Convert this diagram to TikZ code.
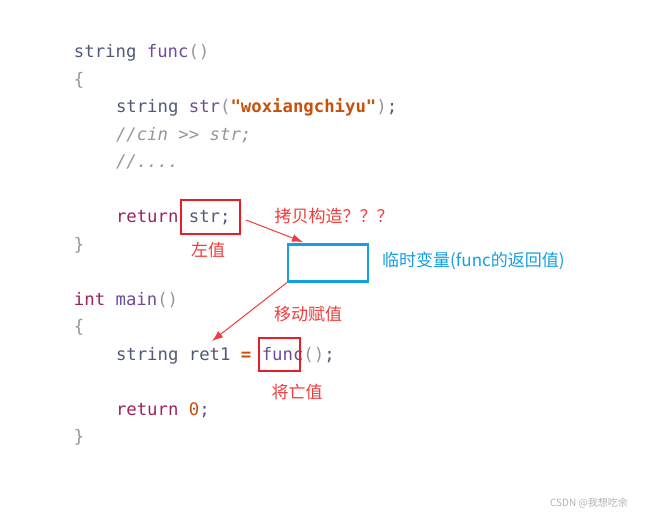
\documentclass[tikz,border=0pt]{standalone}
\usepackage{fontspec}
\usepackage{xcolor}
\usetikzlibrary{positioning,arrows.meta}
\newfontfamily\codefont{DejaVu Sans Mono}
\newfontfamily\cjk{Noto Sans CJK SC}
\definecolor{typeColor}{RGB}{80,90,120}
\definecolor{kwColor}{RGB}{155,35,95}
\definecolor{fnColor}{RGB}{110,75,155}
\definecolor{parColor}{RGB}{150,150,150}
\definecolor{strColor}{RGB}{200,80,10}
\definecolor{boxRed}{RGB}{230,30,40}
\definecolor{noteRed}{RGB}{240,60,60}
\definecolor{noteBlue}{RGB}{20,160,225}
\tikzset{
  code/.style={anchor=base west,inner sep=0pt,outer sep=0pt,font=\codefont\fontsize{17.3}{20}\selectfont,text=typeColor},
  note/.style={inner sep=0pt,font=\cjk\fontsize{17}{20}\selectfont,text=noteRed},
  redbox/.style={draw=boxRed,line width=2.2pt},
  arr/.style={draw=noteRed,line width=1pt,-{Latex[length=11pt,width=8pt]}}
}
\newcommand{\kw}[1]{\textcolor{kwColor}{#1}}
\newcommand{\fn}[1]{\textcolor{fnColor}{#1}}
\newcommand{\pa}[1]{\textcolor{parColor}{#1}}
\begin{document}
\begin{tikzpicture}[x=1pt,y=-1pt]
\path[use as bounding box,fill=white] (0,0) rectangle (649,515);
% code lines
\node[code] (l1) at (74,57) {string \fn{func}\pa{()}};
\node[code] (l2) at (74,85) {\pa{\{}};
\node[code] (l3) at (116,112) {string \fn{str}\pa{(}\textcolor{strColor}{\bfseries"woxiangchiyu"}\pa{)};};
\node[code] (l4) at (116,140) {\textcolor{parColor}{\itshape//cin >> str;}};
\node[code] (l5) at (116,167) {\textcolor{parColor}{\itshape//....}};
\node[code] (l6) at (116,222) {\kw{return} str;};
\node[code] (l7) at (74,250) {\pa{\}}};
\node[code] (l8) at (74,305) {\kw{int} \fn{main}\pa{()}};
\node[code] (l9) at (74,332) {\pa{\{}};
\node[code] (l10) at (116,360) {string ret1 \textcolor{strColor}{\bfseries=} \fn{func}\pa{()};};
\node[code] (l11) at (116,415) {\kw{return} \textcolor{strColor}{0};};
\node[code] (l12) at (74,442) {\pa{\}}};
% boxes
\draw[redbox] (181,200) rectangle (240,234);
\draw[redbox] (259,338) rectangle (300,371);
\node[draw=noteBlue,line width=2.2pt,minimum width=80pt,minimum height=37pt,inner sep=0pt] (tmp) at (328,263) {};
\coordinate (src) at (246,220);
\coordinate (dst) at (212,341);
\coordinate (hit) at (303,242);
% notes
\node[note] (lv) at (208,250) {左值};
\node[note] (cp) at (334,216) {拷贝构造？？？};
\node[note,text=noteBlue,anchor=west] (tv) at (382,261) {临时变量(func的返回值)};
\node[note] (mv) at (308,314) {移动赋值};
\node[note] (xv) at (297,392) {将亡值};
\node[inner sep=0pt,font=\cjk\fontsize{10}{11}\selectfont,text=gray!60] (wm) at (589,503) {CSDN @我想吃余};
% arrows
\draw[arr] (src) -- (hit);
\draw[arr] (tmp.south west) -- (dst);
\end{tikzpicture}
\end{document}
